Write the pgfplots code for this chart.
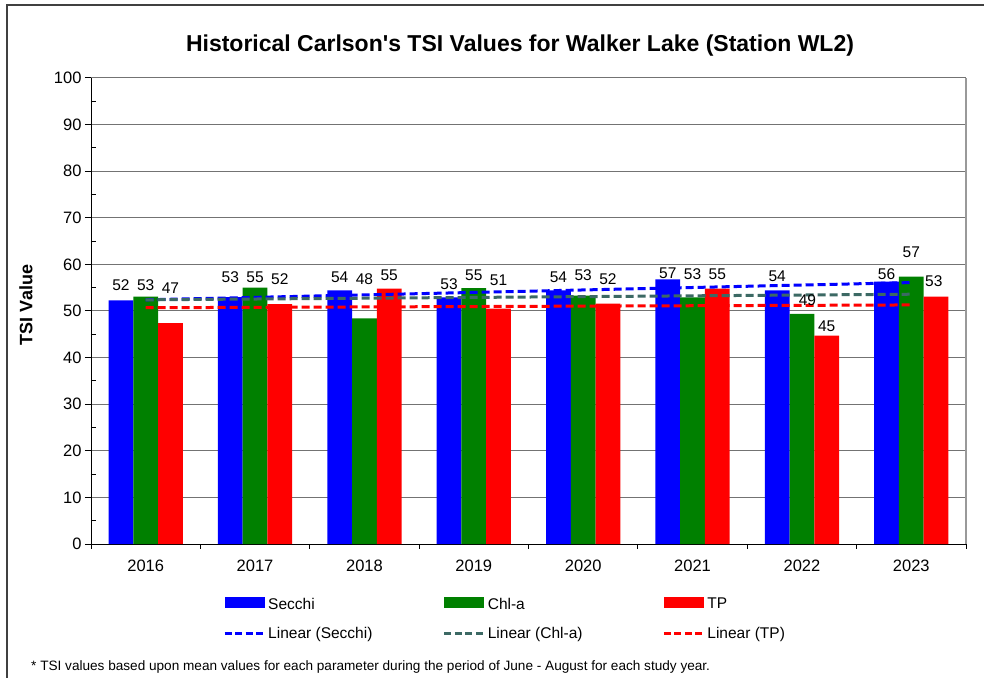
\documentclass[border=0pt]{standalone}
\usepackage{pgfplots}
\pgfplotsset{compat=1.18}
\usepackage{pgfplotstable}
\usepackage{fontspec}
\setmainfont{Liberation Sans}
\definecolor{cblue}{RGB}{0,0,255}
\definecolor{cgreen}{RGB}{0,128,0}
\definecolor{cred}{RGB}{255,0,0}
\definecolor{ctrend}{RGB}{60,105,100}

\pgfplotstableread{
x secchi chla tp
0 52.3 53.1 47.4
1 53.0 55.0 51.5
2 54.4 48.4 54.8
3 52.9 54.9 50.5
4 54.4 53.3 51.6
5 56.8 52.9 54.8
6 54.4 49.4 44.7
7 56.3 57.4 53.1
}\bars

\pgfplotstableread{
x y lab
-0.226 55.6 52
0 55.6 53
0.226 55.0 47
0.774 57.2 53
1 57.2 55
1.226 56.9 52
1.774 57.3 54
2 56.9 48
2.226 57.6 55
2.774 55.8 53
3 57.6 55
3.226 56.7 51
3.774 57.2 54
4 57.6 53
4.226 56.9 52
4.774 58.1 57
5 57.9 53
5.226 57.9 55
5.774 57.4 54
6.05 52.4 49
6.226 46.8 45
6.774 57.8 56
7 62.6 57
7.206 56.3 53
}\labels

\pgfplotstableread{
x s c t
0 52.4 52.4 50.7
7 56.1 53.6 51.3
}\trend

\begin{document}
\begin{tikzpicture}
\useasboundingbox (0pt,0pt) rectangle (984pt,677pt);
\draw[line width=1.3pt, black!75] (7pt,-5pt) -- (7pt,672pt) -- (990pt,672pt);
\begin{axis}[
  at={(91pt,133pt)}, anchor=south west,
  scale only axis, width=875pt, height=466pt,
  xmin=-0.5, xmax=7.5, ymin=0, ymax=100,
  axis x line*=bottom, axis y line*=left,
  axis line style={black, line width=1pt},
  xtick={0,1,2,3,4,5,6,7},
  xticklabels={2016,2017,2018,2019,2020,2021,2022,2023},
  minor xtick={-0.5,0.5,1.5,2.5,3.5,4.5,5.5,6.5,7.5},
  major x tick style={draw=none},
  ytick={0,10,...,100},
  minor ytick={5,15,...,95},
  tick align=outside,
  major tick length=6pt, minor tick length=5pt,
  tick style={black, line width=1pt},
  minor y tick style={xshift=5pt},
  ymajorgrids,
  major grid style={black!55, line width=1pt},
  ticklabel style={font=\fontsize{16.5}{18}\selectfont},
  xticklabel style={yshift=-6pt},
  /pgf/number format/assume math mode=true,
  legend columns=3,
  legend style={draw=none, fill=none, inner sep=0pt,
    at={(0.1509,-0.111)}, anchor=north west,
    font=\fontsize{15.5}{18}\selectfont,
    row sep=13pt,
    /tikz/every even column/.append style={column sep=2.6pt}},
  after end axis/.code={\draw[black!40, line width=1.3pt] (rel axis cs:1,0) -- (rel axis cs:1,1);},
]
\addplot[ybar, bar width=0.226, bar shift=-0.226, fill=cblue, draw=none,
  legend image code/.code={\fill[cblue] (0pt,-4pt) rectangle (40pt,7pt);}]
  table[x=x,y=secchi]{\bars};
\addlegendentry{\makebox[170pt][l]{Secchi}}
\addplot[ybar, bar width=0.226, bar shift=0, fill=cgreen, draw=none,
  legend image code/.code={\fill[cgreen] (0pt,-4pt) rectangle (40pt,7pt);}]
  table[x=x,y=chla]{\bars};
\addlegendentry{\makebox[170pt][l]{Chl-a}}
\addplot[ybar, bar width=0.226, bar shift=0.226, fill=cred, draw=none,
  legend image code/.code={\fill[cred] (0pt,-4pt) rectangle (40pt,7pt);}]
  table[x=x,y=tp]{\bars};
\addlegendentry{\makebox[170pt][l]{TP}}
\addplot[cblue, line width=3pt, dash pattern=on 8pt off 4pt,
  legend image code/.code={\draw[cblue, line width=3pt, dash pattern=on 7pt off 3.5pt] (0pt,0.5pt) -- (40pt,0.5pt);}]
  table[x=x,y=s]{\trend};
\addlegendentry{\makebox[170pt][l]{Linear (Secchi)}}
\addplot[ctrend, line width=3pt, dash pattern=on 8pt off 4pt,
  legend image code/.code={\draw[ctrend, line width=3pt, dash pattern=on 7pt off 3.5pt] (0pt,0.5pt) -- (40pt,0.5pt);}]
  table[x=x,y=c]{\trend};
\addlegendentry{\makebox[170pt][l]{Linear (Chl-a)}}
\addplot[cred, line width=3pt, dash pattern=on 8pt off 4pt,
  legend image code/.code={\draw[cred, line width=3pt, dash pattern=on 7pt off 3.5pt] (0pt,0.5pt) -- (40pt,0.5pt);}]
  table[x=x,y=t]{\trend};
\addlegendentry{\makebox[170pt][l]{Linear (TP)}}
\addplot[only marks, mark=none, forget plot,
  point meta=explicit symbolic,
  nodes near coords={\pgfplotspointmeta},
  every node near coord/.style={anchor=center, inner sep=0pt, font=\fontsize{15.5}{17}\selectfont, black}]
  table[x=x,y=y,meta=lab]{\labels};
\end{axis}
\node[font=\bfseries\fontsize{23}{26}\selectfont] at (520pt,631pt) {Historical Carlson\textquotesingle s TSI Values for Walker Lake (Station WL2)};
\node[rotate=90, font=\bfseries\fontsize{18}{20}\selectfont] at (26pt,372pt) {TSI Value};
\node[anchor=base west, inner sep=0pt, font=\fontsize{13.6}{15}\selectfont] at (31pt,7pt) {* TSI values based upon mean values for each parameter during the period of June - August for each study year.};
\end{tikzpicture}
\end{document}
